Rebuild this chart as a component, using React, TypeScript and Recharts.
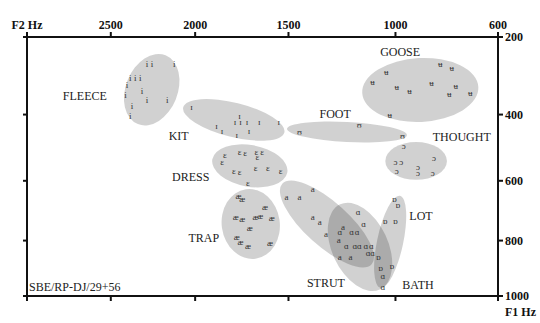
import React from 'react';
import { ScatterChart, Scatter, XAxis, YAxis, ReferenceArea } from 'recharts';

// F2 / F1 axis extents and ticks (Hz)
const F2_RANGE = [3040, 600];
const F1_RANGE = [200, 1000];
const F2_TICKS = [3040, 2500, 2000, 1500, 1000, 600];
const F1_TICKS = [200, 400, 600, 800, 1000];

// individual tokens, [F2, F1] in Hz
const FLEECE = [[2280, 265], [2250, 265], [2120, 265], [2380, 300], [2350, 300], [2320, 300], [2400, 320], [2310, 335], [2410, 345], [2280, 360], [2160, 360], [2370, 375], [2380, 405]];
const KIT = [[2020, 380], [1755, 405], [1780, 420], [1750, 422], [1715, 420], [1650, 422], [1550, 420], [1880, 432], [1850, 447], [1770, 460], [1705, 447]];
const DRESS = [[1835, 520], [1850, 540], [1755, 510], [1725, 513], [1665, 510], [1635, 510], [1660, 526], [1785, 570], [1755, 573], [1670, 558], [1605, 558], [1540, 570], [1710, 607]];
const TRAP = [[1760, 649], [1740, 659], [1620, 686], [1775, 720], [1740, 727], [1670, 720], [1645, 716], [1585, 723], [1700, 757], [1770, 788], [1750, 806], [1710, 820], [1595, 809]];
const STRUT = [[1380, 626], [1510, 652], [1445, 652], [1380, 720], [1345, 737], [1315, 778], [1235, 754], [1255, 799], [1250, 858], [1200, 858]];
const BATH = [[1165, 703], [1140, 744], [1250, 771], [1195, 771], [1170, 771], [1220, 820], [1180, 820], [1160, 820], [1130, 820], [1105, 820], [1120, 843], [1100, 843], [1055, 926], [1055, 966]];
const LOT = [[1005, 659], [990, 679], [1045, 733], [1000, 733], [1075, 858], [1065, 897], [1015, 890]];
const FOOT = [[1445, 450], [1160, 430], [970, 462]];
const GOOSE = [[815, 264], [770, 275], [1040, 285], [1100, 311], [995, 325], [940, 336], [850, 314], [755, 322], [780, 343], [700, 341], [1025, 401]];
const THOUGHT = [[965, 492], [840, 529], [1000, 541], [975, 541], [995, 570], [905, 556], [905, 575], [845, 576]];

const VOWELS = ['FLEECE', 'KIT', 'DRESS', 'TRAP', 'STRUT', 'BATH', 'LOT', 'FOOT', 'GOOSE', 'THOUGHT'];
const SYMBOLS = ['i', 'ɪ', 'ɛ', 'æ', 'a', 'ɑ', 'ɒ', 'ʊ', 'ʉ', 'ɔ'];
const TOKENS = [FLEECE, KIT, DRESS, TRAP, STRUT, BATH, LOT, FOOT, GOOSE, THOUGHT];

// where each keyword label sits (Hz)
const LABEL_F2 = [2663, 2094, 2025, 1951, 1316, 905, 893, 1272, 980, 732];
const LABEL_F1 = [348, 462, 588, 792, 952, 959, 716, 398, 235, 465];

// dispersion ellipses: F2 span, F1 span (before tilt), tilt in degrees
const ELLIPSE_F2 = [[2408, 2100], [2077, 1513], [1907, 1503], [1852, 1544], [1611, 1036], [1287, 1032], [1080, 967], [1508, 951], [1147, 670], [1044, 789]];
const ELLIPSE_F1 = [[237, 435], [367, 465], [489, 619], [626, 865], [669, 819], [662, 992], [645, 973], [421, 480], [250, 421], [480, 597]];
const ELLIPSE_TILT = [22, 14, 10, -8, 42, -25, 12, 3, -3, 0];

const NOTE = 'SBE/RP-DJ/29+56';

// the original plot uses a compressive frequency scale
const F2_POW = 0.6;
const F1_POW = 0.7;
const f2u = (hz: number) => Math.pow(hz, F2_POW);
const f1u = (hz: number) => Math.pow(hz, F1_POW);

const SERIF = "'Liberation Serif', 'DejaVu Serif', serif";
const AXIS = { stroke: '#111', strokeWidth: 2 };
const TICK = { fill: '#111', fontSize: 12, fontWeight: 'bold', fontFamily: SERIF };

const xDomain = [f2u(F2_RANGE[1]), f2u(F2_RANGE[0])];
const yDomain = [f1u(F1_RANGE[0]), f1u(F1_RANGE[1])];
const xTicks = F2_TICKS.map(f2u);
const yTicks = F1_TICKS.map(f1u);

const fmtF2 = (v: number) => {
    const hz = Math.round(Math.pow(v, 1 / F2_POW));
    return hz > 2600 ? 'F2 Hz' : String(hz);
};
const fmtF1 = (v: number) => String(Math.round(Math.pow(v, 1 / F1_POW)));
const blank = () => '';

const ellipseShape = (tilt: number) => (props: any) => {
    const { x, y, width, height } = props;
    const cx = x + width / 2;
    const cy = y + height / 2;
    return (
        <ellipse
            cx={cx}
            cy={cy}
            rx={Math.abs(width) / 2}
            ry={Math.abs(height) / 2}
            transform={`rotate(${tilt} ${cx} ${cy})`}
            fill="#000"
            fillOpacity={0.18}
        />
    );
};

const symbolShape = (sym: string) => (props: any) => (
    <text x={props.cx} y={props.cy} textAnchor="middle" dominantBaseline="central" fontSize={9} fontFamily={SERIF} fill="#333">
        {sym}
    </text>
);

const labelShape = (props: any) => (
    <text x={props.cx} y={props.cy} textAnchor="middle" dominantBaseline="central" fontSize={12} fontFamily={SERIF} fill="#222">
        {props.payload.name}
    </text>
);

const labelData = VOWELS.map((name, i) => ({ name, x: f2u(LABEL_F2[i]), y: f1u(LABEL_F1[i]) }));

export default function App() {
    return (
        <div style={{ position: 'absolute', left: 0, top: 0, width: 540, height: 323, background: '#fff' }}>
            <ScatterChart width={540} height={323} margin={{ top: 0, right: 0, bottom: 0, left: 0 }}>
                <XAxis xAxisId="top" orientation="top" type="number" dataKey="x" domain={xDomain} reversed allowDataOverflow
                    ticks={xTicks} interval={0} height={37} tickSize={5} tickMargin={3} tickFormatter={fmtF2}
                    axisLine={AXIS} tickLine={AXIS} tick={TICK} />
                <XAxis xAxisId="bottom" orientation="bottom" type="number" dataKey="x" domain={xDomain} reversed allowDataOverflow
                    ticks={xTicks} interval={0} height={27} tickSize={5} tickFormatter={blank}
                    axisLine={AXIS} tickLine={AXIS} tick={TICK} />
                <YAxis yAxisId="right" orientation="right" type="number" dataKey="y" domain={yDomain} reversed allowDataOverflow
                    ticks={yTicks} interval={0} width={42} tickSize={5} tickMargin={2} tickFormatter={fmtF1}
                    axisLine={AXIS} tickLine={AXIS} tick={{ ...TICK, textAnchor: 'start' }} />
                <YAxis yAxisId="left" orientation="left" type="number" dataKey="y" domain={yDomain} reversed allowDataOverflow
                    ticks={yTicks} interval={0} width={27} tickSize={4} tickFormatter={blank}
                    axisLine={AXIS} tickLine={AXIS} tick={TICK} />

                {VOWELS.map((v, i) => (
                    <ReferenceArea
                        key={'e' + v}
                        xAxisId="top"
                        yAxisId="right"
                        x1={f2u(ELLIPSE_F2[i][0])}
                        x2={f2u(ELLIPSE_F2[i][1])}
                        y1={f1u(ELLIPSE_F1[i][0])}
                        y2={f1u(ELLIPSE_F1[i][1])}
                        shape={ellipseShape(ELLIPSE_TILT[i])}
                    />
                ))}

                {VOWELS.map((v, i) => (
                    <Scatter
                        key={'s' + v}
                        name={v}
                        xAxisId="top"
                        yAxisId="right"
                        data={TOKENS[i].map(([f2, f1]) => ({ x: f2u(f2), y: f1u(f1) }))}
                        shape={symbolShape(SYMBOLS[i])}
                        isAnimationActive={false}
                    />
                ))}

                <Scatter name="labels" xAxisId="top" yAxisId="right" data={labelData} shape={labelShape} isAnimationActive={false} />
            </ScatterChart>
            <div style={{ position: 'absolute', left: 29, top: 280, fontFamily: SERIF, fontSize: 12, lineHeight: '14px', color: '#222' }}>
                {NOTE}
            </div>
            <div style={{ position: 'absolute', left: 505, top: 305, fontFamily: SERIF, fontSize: 12, fontWeight: 'bold', lineHeight: '14px', color: '#111' }}>
                F1 Hz
            </div>
        </div>
    );
}
